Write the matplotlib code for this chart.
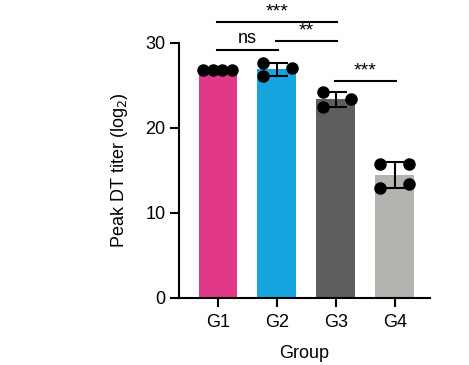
import matplotlib
matplotlib.use("Agg")
import matplotlib.pyplot as plt
import numpy as np

plt.rcParams['font.family'] = ['Liberation Sans', 'DejaVu Sans']

groups = ["G1", "G2", "G3", "G4"]
colors = ["#E1388A", "#17A5E0", "#5E5E5E", "#B4B3AF"]
points = [
    [26.8, 26.8, 26.8, 26.8],
    [27.6, 26.1, 27.1],
    [24.2, 22.5, 23.4],
    [15.8, 12.9, 15.8, 13.4],
]
offsets = [
    [-0.25, -0.09, 0.07, 0.24],
    [-0.24, -0.24, 0.25],
    [-0.22, -0.22, 0.25],
    [-0.25, -0.25, 0.24, 0.24],
]
comparisons = [(0, 2, 32.5, "***"), (0, 1, 29.2, "ns"), (1, 2, 30.2, "**"), (2, 3, 25.5, "***")]

fig = plt.figure(figsize=(4.69, 3.65), dpi=100)
ax = fig.add_axes([0.382, 0.1836, 0.535, 0.6986])

x = np.arange(len(groups))
means = [np.mean(p) for p in points]
sds = [np.std(p, ddof=1) for p in points]
ax.bar(x, means, width=0.66, color=colors, zorder=1)
for i, (p, o) in enumerate(zip(points, offsets)):
    ax.errorbar(i, means[i], yerr=sds[i], fmt='none', ecolor='black',
                elinewidth=1.5, capsize=8, capthick=1.5, zorder=2, clip_on=False)
    ax.scatter(np.array(o) + i, p, s=64, color='black', zorder=3, clip_on=False)

for a, b, y, lab in comparisons:
    ax.plot([a - 0.02, b + 0.02], [y, y], color='black', lw=1.5, clip_on=False)
    fs = 13 if lab == "ns" else 14
    dy = 0.3 if lab == "ns" else 0.2
    ax.text((a + b) / 2, y + dy, lab, ha='center', va='bottom', fontsize=fs, clip_on=False)

ax.set_xlim(-0.66, 3.6)
ax.set_ylim(0, 30)
ax.set_yticks([0, 10, 20, 30])
ax.set_xticks(x)
ax.set_xticklabels(groups)
ax.spines['top'].set_visible(False)
ax.spines['right'].set_visible(False)
for s in ['left', 'bottom']:
    ax.spines[s].set_linewidth(1.5)
ax.tick_params(axis='both', width=1.5, length=6.5, labelsize=13, direction='out')
ax.tick_params(axis='x', pad=5)
ax.set_ylabel("Peak DT titer (log$_2$)", fontsize=13, labelpad=11)
ax.set_xlabel("Group", fontsize=13, labelpad=10)

fig.savefig("out.png", dpi=100)
